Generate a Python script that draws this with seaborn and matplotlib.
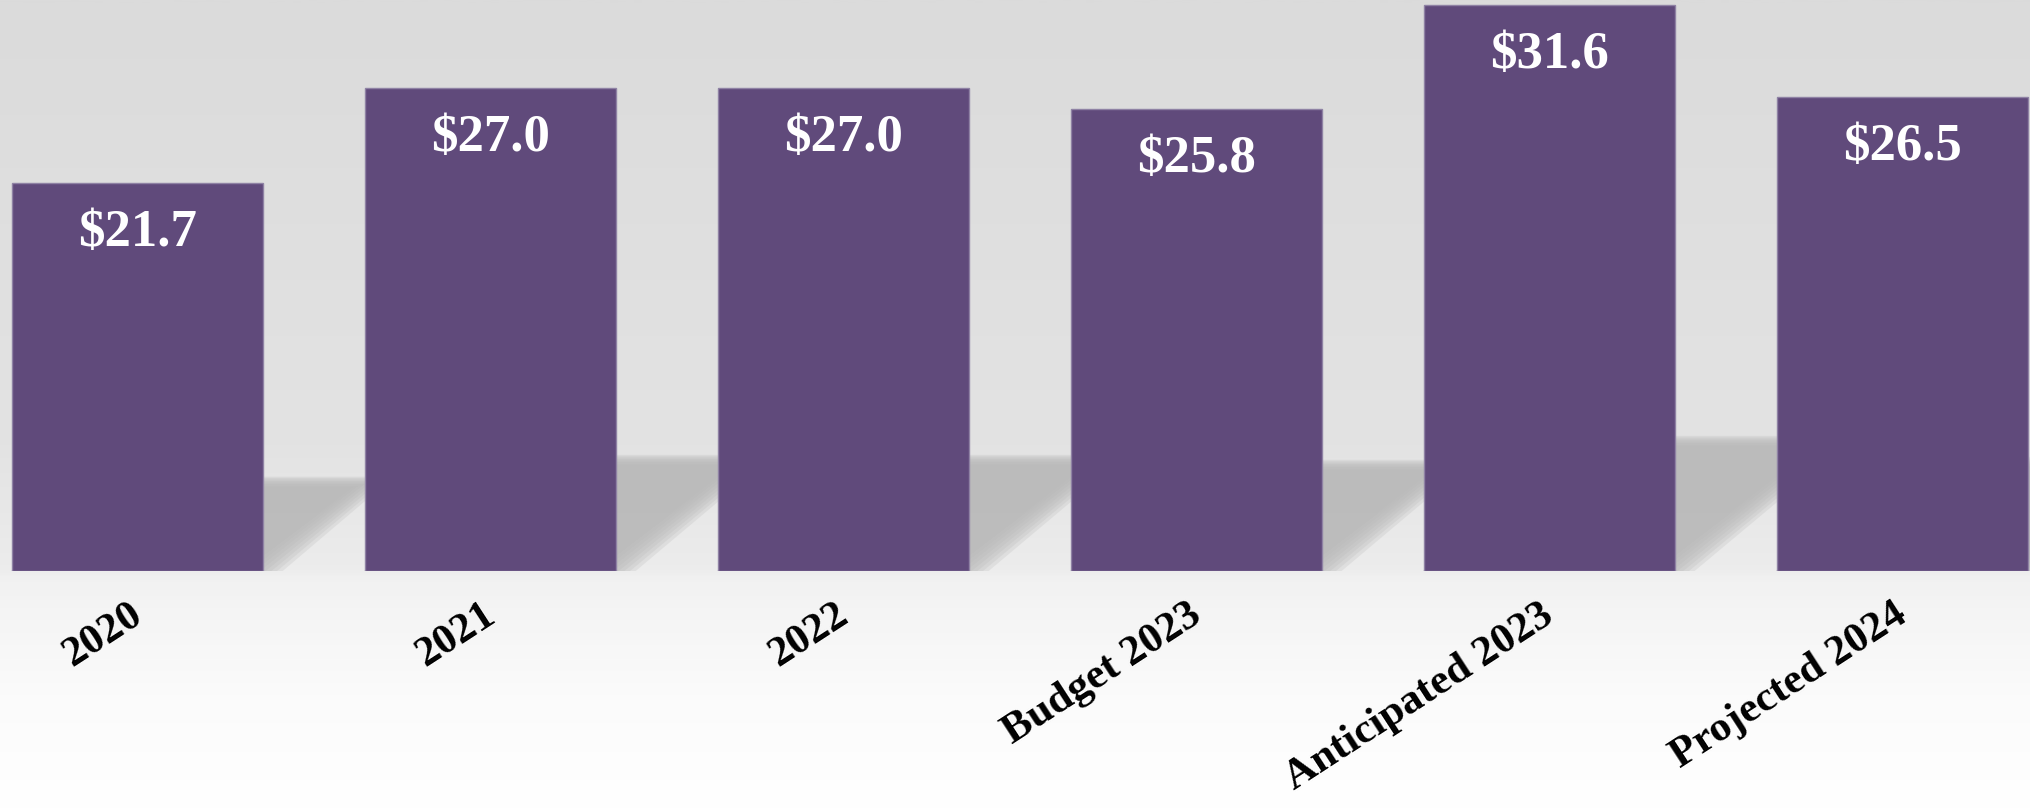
import numpy as np
import matplotlib
matplotlib.use("Agg")
import matplotlib.pyplot as plt
import matplotlib.transforms as mtransforms
import seaborn as sns
from matplotlib.colors import LinearSegmentedColormap

# ========================
# DATA
# ========================
categories = ["2020", "2021", "2022", "Budget 2023", "Anticipated 2023", "Projected 2024"]
values = [21.7, 27.0, 27.0, 25.8, 31.6, 26.5]
value_labels = [r"\$%.1f" % v for v in values]

# ========================
# STYLE
# ========================
BAR_COLOR = "#604a7b"
BAR_EDGE = "#8f82a4"
SHADOW = "#b9b9b9"
FONT = ["Liberation Serif", "DejaVu Serif"]
BAR_WIDTH = 0.712

sns.set_style("white")
plt.rcParams["font.family"] = FONT

fig = plt.figure(figsize=(20.31, 8.11), dpi=100)

# background gradient (grey top, white bottom)
bg = fig.add_axes([0, 0, 1, 1])
grad_cmap = LinearSegmentedColormap.from_list(
    "bg",
    [(0.0, "#dbdbdb"), (0.55, "#e3e3e3"), (0.70, "#ececec"),
     (0.72, "#f2f2f2"), (0.86, "#fbfbfb"), (1.0, "#ffffff")],
)
grad = np.linspace(0, 1, 400).reshape(-1, 1)
bg.imshow(grad, aspect="auto", cmap=grad_cmap, extent=[0, 1, 0, 1], origin="upper")
bg.set_axis_off()

# main axes
ax = fig.add_axes([0, 1 - 571 / 811, 1, 571 / 811])
ax.patch.set_alpha(0)

sns.barplot(x=categories, y=values, color=BAR_COLOR, saturation=1,
            width=BAR_WIDTH, edgecolor=BAR_EDGE, linewidth=1, ax=ax, zorder=3)

# soft perspective shadows behind bars
n_layers = 8
for i, v in enumerate(values):
    sh = 0.23 * v
    dx = 0.0145 * v
    for k in range(n_layers):
        off = (k - (n_layers - 1) / 2) * 0.008
        hh = sh + (k - (n_layers - 1) / 2) * 0.08
        xs = [i - BAR_WIDTH / 2, i + BAR_WIDTH / 2 + off * 2,
              i + BAR_WIDTH / 2 + dx + off * 2, i - BAR_WIDTH / 2 + dx]
        ys = [0, 0, hh, hh]
        ax.fill(xs, ys, color=SHADOW, alpha=0.25, lw=0, zorder=1)

# value labels inside bars
for i, (v, lab) in enumerate(zip(values, value_labels)):
    ax.annotate(lab, (i, v), xytext=(0, -36), textcoords="offset points",
                ha="center", va="center", color="white", fontsize=38,
                fontweight="bold", family=FONT, zorder=4)

ax.set_xlim(-0.389, 5.365)
ax.set_ylim(0, 31.9)
ax.set_yticks([])
ax.set_xlabel("")
ax.set_ylabel("")
for s in ax.spines.values():
    s.set_visible(False)

ax.tick_params(axis="x", length=0, pad=18, colors="black")
shift = mtransforms.ScaledTranslation(-9 / 100, 0, fig.dpi_scale_trans)
for t in ax.get_xticklabels():
    t.set_rotation(33)
    t.set_ha("right")
    t.set_rotation_mode("anchor")
    t.set_fontsize(31)
    t.set_fontweight("bold")
    t.set_family(FONT)
    t.set_color("black")
    t.set_transform(t.get_transform() + shift)

fig.savefig("out.png", dpi=100)
